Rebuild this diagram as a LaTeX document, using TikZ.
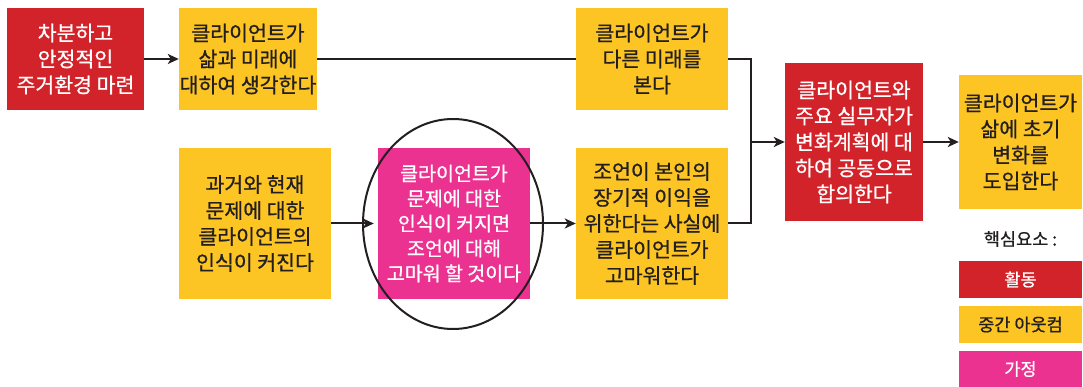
\documentclass[tikz,border=0pt]{standalone}
\usepackage{fontspec}
\setmainfont{Noto Sans CJK KR}[FakeBold=0.8]
\usetikzlibrary{arrows.meta}
\definecolor{cred}{HTML}{D2232A}
\definecolor{cyel}{HTML}{FDC524}
\definecolor{cpink}{HTML}{EC3290}
\definecolor{cdark}{HTML}{231F20}
\begin{document}
\begin{tikzpicture}[x=1pt,y=-1pt,
  box/.style={inner sep=0pt, align=center, font=\fontsize{20.5}{26}\selectfont},
  act/.style={box, fill=cred, text=white},
  mid/.style={box, fill=cyel, text=cdark},
  asm/.style={box, fill=cpink, text=white},
  leg/.style={font=\fontsize{17.5}{20}\selectfont},
  conn/.style={draw=cdark, line width=2pt},
  arr/.style={conn, -{Stealth[length=11pt,width=10pt,inset=3pt]}}]
\useasboundingbox (0,0) rectangle (1083,387);
\node[act, minimum width=137pt, minimum height=102pt] (A) at (75.5,59) {차분하고\\안정적인\\주거환경 마련};
\node[mid, minimum width=138pt, minimum height=102pt] (B) at (248,59) {클라이언트가\\삶과 미래에\\대하여 생각한다};
\node[mid, minimum width=152pt, minimum height=102pt] (C) at (652,59) {클라이언트가\\다른 미래를\\본다};
\node[mid, minimum width=152pt, minimum height=151pt] (F) at (255,223.5) {과거와 현재\\문제에 대한\\클라이언트의\\인식이 커진다};
\node[asm, minimum width=152pt, minimum height=151pt, font=\fontsize{19.5}{25}\selectfont] (G) at (454,223.5) {클라이언트가\\문제에 대한\\인식이 커지면\\조언에 대해\\고마워 할 것이다};
\node[mid, minimum width=152pt, minimum height=151pt] (H) at (652,223.5) {조언이 본인의\\장기적 이익을\\위한다는 사실에\\클라이언트가\\고마워한다};
\node[act, minimum width=138pt, minimum height=158pt] (D) at (854,142) {클라이언트와\\주요 실무자가\\변화계획에 대\\하여 공동으로\\합의한다};
\node[mid, minimum width=123pt, minimum height=134pt] (E) at (1020.5,142) {클라이언트가\\삶에 초기\\변화를\\도입한다};
\draw[draw=cdark, line width=2pt] (453,224) ellipse [x radius=90, y radius=105];
\node[leg, text=cdark] (K) at (1020.5,239) {핵심요소 :};
\node[act, leg, minimum width=123pt, minimum height=37pt] (L1) at (1020.5,279.5) {활동};
\node[mid, leg, minimum width=123pt, minimum height=37pt] (L2) at (1020.5,324.5) {중간 아웃컴};
\node[asm, leg, minimum width=123pt, minimum height=36pt] (L3) at (1020.5,369) {가정};
\coordinate (bx) at (751,142);
\draw[arr] (A.east) -- (B.west);
\draw[conn] (B.east) -- (C.west);
\draw[conn] (C.east) -- (C.east -| bx) -- (bx |- H.east) -- (H.east);
\draw[arr] (bx) -- (D.west);
\draw[arr] (D.east) -- (E.west);
\draw[arr, shorten >=4pt] (F.east) -- (G.west);
\draw[arr] (G.east) -- (H.west);
\end{tikzpicture}
\end{document}
